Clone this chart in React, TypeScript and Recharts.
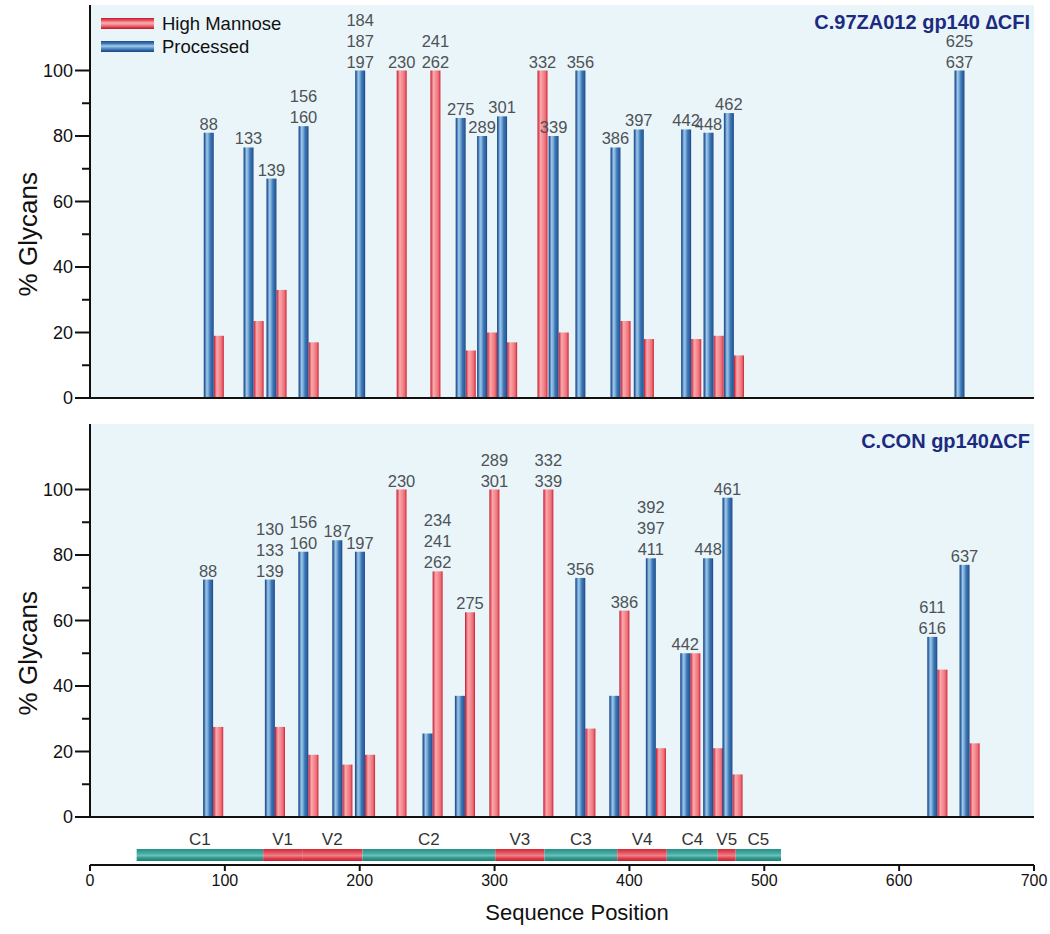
import { BarChart, Bar, XAxis, YAxis, CartesianGrid, LabelList, Legend, Label } from "recharts";

const FONT = "'Liberation Sans', Arial, Helvetica, sans-serif";

// shared axis values
const xTicks = [0, 100, 200, 300, 400, 500, 600, 700];
const yTicks = [0, 10, 20, 30, 40, 50, 60, 70, 80, 90, 100];
const Y_MAX = 120;

// top panel: C.97ZA012 gp140 ΔCFI (blue bar position, red sits right next to it)
const topPos = [88, 117.5, 134.5, 158.3, 200.3, 223.6, 248.6, 274.8, 290.7, 305.5, 328, 343.7, 363.6, 389.6, 406.9, 442, 458.6, 473.7, 644.7];
const topProcessed = [81, 76.5, 67, 83, 100, null, null, 85.5, 80, 86, null, 80, 100, 76.5, 82, 82, 81, 87, 100];
const topMannose = [19, 23.5, 33, 17, null, 100, 100, 14.5, 20, 17, 100, 20, null, 23.5, 18, 18, 19, 13, null];
const topSites = ["88", "133", "139", "156 160", "184 187 197", "230", "241 262", "275", "289", "301", "332", "339", "356", "386", "397", "442", "448", "462", "625 637"];
const topLabelOn = ["P", "P", "P", "P", "P", "M", "M", "P", "P", "P", "M", "P", "P", "P", "P", "P", "P", "P", "P"];

// bottom panel: C.CON gp140ΔCF
const botPos = [87.7, 133.5, 158.3, 183.5, 200.3, 223.6, 250.4, 274.4, 292.5, 332.5, 363.7, 388.9, 416, 441.5, 458.5, 472.8, 624.7, 648.6];
const botProcessed = [72.5, 72.5, 81, 84.5, 81, null, 25.5, 37, null, null, 73, 37, 79, 50, 79, 97.5, 55, 77];
const botMannose = [27.5, 27.5, 19, 16, 19, 100, 75, 62.5, 100, 100, 27, 63, 21, 50, 21, 13, 45, 22.5];
const botSites = ["88", "130 133 139", "156 160", "187", "197", "230", "234 241 262", "275", "289 301", "332 339", "356", "386", "392 397 411", "442", "448", "461", "611 616", "637"];
const botLabelOn = ["P", "P", "P", "P", "P", "M", "M", "M", "M", "M", "P", "M", "P", "P", "P", "P", "P", "P"];

// env regions along the sequence
const regionStart = 34.6;
const regionNames = ["C1", "V1", "V2", "C2", "V3", "C3", "V4", "C4", "V5", "C5"];
const regionEnds = [128.4, 157.3, 202, 300.5, 337, 391, 427.7, 465.5, 478.8, 512.4];

const PAIR = 7.5; // red bar is drawn one bar-width to the right of the blue one
const BAR_W = 10;

function buildRows(pos: number[], proc: (number | null)[], man: (number | null)[], sites: string[], on: string[]) {
  const rows: any[] = [];
  pos.forEach((p, i) => {
    rows.push({ x: p, processed: proc[i] ?? undefined, pLabel: on[i] === "P" ? sites[i] : undefined });
    rows.push({ x: p + PAIR, mannose: man[i] ?? undefined, mLabel: on[i] === "M" ? sites[i] : undefined });
  });
  return rows;
}

const topRows = buildRows(topPos, topProcessed, topMannose, topSites, topLabelOn);
const botRows = buildRows(botPos, botProcessed, botMannose, botSites, botLabelOn);

const bandRow: any = { name: "env", pad: regionStart };
regionNames.forEach((n, i) => {
  bandRow[n] = regionEnds[i] - (i === 0 ? regionStart : regionEnds[i - 1]);
});

const SWATCH: Record<string, string> = {
  mannose: "linear-gradient(to bottom, #c8142e 0%, #e8606a 25%, #f8b0b3 45%, #f08088 65%, #dc3c4a 85%, #c0142c 100%)",
  processed: "linear-gradient(to bottom, #1c4a86 0%, #3f7cbd 25%, #a5cbe9 45%, #5f97cc 65%, #2c60a0 85%, #1c4680 100%)",
};

const BarDefs = () => (
  <defs>
    <linearGradient id="gBlue" x1="0" y1="0" x2="1" y2="0">
      <stop offset="0%" stopColor="#1b4783" />
      <stop offset="10%" stopColor="#2d62a3" />
      <stop offset="30%" stopColor="#9ec5e6" />
      <stop offset="45%" stopColor="#7fb0da" />
      <stop offset="65%" stopColor="#3d78b7" />
      <stop offset="88%" stopColor="#2b5e9e" />
      <stop offset="100%" stopColor="#1a4480" />
    </linearGradient>
    <linearGradient id="gRed" x1="0" y1="0" x2="1" y2="0">
      <stop offset="0%" stopColor="#c2122b" />
      <stop offset="10%" stopColor="#e04656" />
      <stop offset="30%" stopColor="#f7a9ac" />
      <stop offset="55%" stopColor="#f58d92" />
      <stop offset="80%" stopColor="#ec6c74" />
      <stop offset="100%" stopColor="#cf2135" />
    </linearGradient>
  </defs>
);

const BarShape = (props: any) => {
  const { x, y, width, height, fill } = props;
  if (!height || height <= 0) return <g />;
  const cx = x + width / 2;
  return <rect x={cx - BAR_W / 2} y={y} width={BAR_W} height={height} fill={fill} />;
};

const SiteLabel = (props: any) => {
  const { value } = props;
  if (!value) return null;
  const vb = props.viewBox ?? props;
  const cx = vb.x + vb.width / 2;
  const top = vb.y;
  const lines = String(value).split(" ");
  return (
    <text textAnchor="middle" fontSize={16.5} fill="#4d5257" fontFamily={FONT}>
      {lines.map((l, i) => (
        <tspan key={i} x={cx} y={top - 3 - (lines.length - 1 - i) * 21}>
          {l}
        </tspan>
      ))}
    </text>
  );
};

const YTick = (props: any) => {
  const { x, y, payload } = props;
  const axisX = x + 17;
  const major = payload.value % 20 === 0;
  return (
    <g>
      <line x1={axisX - (major ? 15 : 8)} x2={axisX} y1={y} y2={y} stroke="#111" strokeWidth={2} />
      {major && (
        <text x={axisX - 17} y={y} dy="0.35em" textAnchor="end" fontSize={18} fill="#111" fontFamily={FONT}>
          {payload.value}
        </text>
      )}
    </g>
  );
};

const YLabel = (props: any) => {
  const vb = props.viewBox;
  const cy = vb.y + vb.height * (1 - 50 / Y_MAX);
  const cx = vb.x + 37;
  return (
    <text x={cx} y={cy} transform={`rotate(-90 ${cx} ${cy})`} textAnchor="middle" fontSize={26} fill="#111" fontFamily={FONT}>
      % Glycans
    </text>
  );
};

const XLabel = (props: any) => {
  const vb = props.viewBox;
  return (
    <text x={vb.x + vb.width / 2 + 15} y={vb.y + 55} textAnchor="middle" fontSize={22} fill="#111" fontFamily={FONT}>
      Sequence Position
    </text>
  );
};

const LegendContent = (props: any) => {
  const items = props.payload ?? [];
  return (
    <div style={{ fontFamily: FONT }}>
      {items.map((it: any) => (
        <div key={it.value} style={{ display: "flex", alignItems: "center", height: 23 }}>
          <span style={{ display: "inline-block", width: 53, height: 11, background: SWATCH[it.dataKey], marginRight: 8 }} />
          <span style={{ fontSize: 18.5, color: "#111" }}>{it.value}</span>
        </div>
      ))}
    </div>
  );
};

const Panel = ({ rows, title, height, top, legend }: any) => (
  <BarChart width={1050} height={height} data={rows} margin={{ top, right: 16, bottom: 12, left: 0 }}>
    <BarDefs />
    <CartesianGrid fill="#eaf5fa" horizontal={false} vertical={false} stroke="none" />
    <XAxis
      type="number"
      dataKey="x"
      domain={[0, 700]}
      ticks={xTicks}
      tick={false}
      tickLine={false}
      height={2}
      axisLine={{ stroke: "#111", strokeWidth: 2 }}
    />
    <YAxis
      type="number"
      domain={[0, Y_MAX]}
      ticks={yTicks}
      interval={0}
      width={90}
      tickSize={15}
      tickMargin={2}
      tickLine={false}
      tick={<YTick />}
      axisLine={{ stroke: "#111", strokeWidth: 2 }}
    >
      <Label content={<YLabel />} />
    </YAxis>
    <Bar dataKey="mannose" name="High Mannose" stackId="s" fill="url(#gRed)" shape={<BarShape />} isAnimationActive={false}>
      <LabelList dataKey="mLabel" content={<SiteLabel />} />
    </Bar>
    <Bar dataKey="processed" name="Processed" stackId="s" fill="url(#gBlue)" shape={<BarShape />} isAnimationActive={false}>
      <LabelList dataKey="pLabel" content={<SiteLabel />} />
    </Bar>
    {legend && (
      <Legend
        layout="horizontal"
        verticalAlign="middle"
        align="center"
        wrapperStyle={{ left: 101, top: 12, width: "auto", height: "auto" }}
        content={<LegendContent />}
      />
    )}
    <text x={1030} y={top + 24} textAnchor="end" fontSize={20} fontWeight="bold" fill="#1c2b7f" fontFamily={FONT}>
      {title}
    </text>
  </BarChart>
);

export default function App() {
  return (
    <div style={{ position: "absolute", left: 0, top: 0, width: 1050, height: 934, background: "#fff", fontFamily: FONT }}>
      <Panel rows={topRows} title="C.97ZA012 gp140 ∆CFI" height={412} top={5} legend />
      <Panel rows={botRows} title="C.CON gp140ΔCF" height={419} top={12} />
      <BarChart width={1050} height={103} layout="vertical" data={[bandRow]} margin={{ top: 14, right: 16, bottom: 9, left: 90 }}>
        <defs>
          <linearGradient id="gTeal" x1="0" y1="0" x2="0" y2="1">
            <stop offset="0%" stopColor="#258f87" />
            <stop offset="35%" stopColor="#45aaa1" />
            <stop offset="55%" stopColor="#6cc0b8" />
            <stop offset="75%" stopColor="#2f978e" />
            <stop offset="100%" stopColor="#1c7f77" />
          </linearGradient>
          <linearGradient id="gBandRed" x1="0" y1="0" x2="0" y2="1">
            <stop offset="0%" stopColor="#d2283a" />
            <stop offset="35%" stopColor="#e65a64" />
            <stop offset="55%" stopColor="#f08088" />
            <stop offset="80%" stopColor="#d83a48" />
            <stop offset="100%" stopColor="#c41f31" />
          </linearGradient>
        </defs>
        <XAxis
          type="number"
          domain={[0, 700]}
          ticks={xTicks}
          interval={0}
          tickSize={6}
          tickMargin={4}
          height={60}
          axisLine={{ stroke: "#111", strokeWidth: 2 }}
          tickLine={{ stroke: "#111", strokeWidth: 2 }}
          tick={{ fontSize: 16, fill: "#111", fontFamily: FONT }}
        >
          <Label content={<XLabel />} />
        </XAxis>
        <YAxis type="category" dataKey="name" hide />
        <Bar dataKey="pad" stackId="env" fill="none" barSize={12} isAnimationActive={false} />
        {regionNames.map((n) => (
          <Bar
            key={n}
            dataKey={n}
            stackId="env"
            barSize={12}
            fill={n.startsWith("V") ? "url(#gBandRed)" : "url(#gTeal)"}
            isAnimationActive={false}
          >
            <LabelList position="top" offset={4} formatter={() => n} fontSize={17} fill="#333" fontFamily={FONT} />
          </Bar>
        ))}
      </BarChart>
    </div>
  );
}
